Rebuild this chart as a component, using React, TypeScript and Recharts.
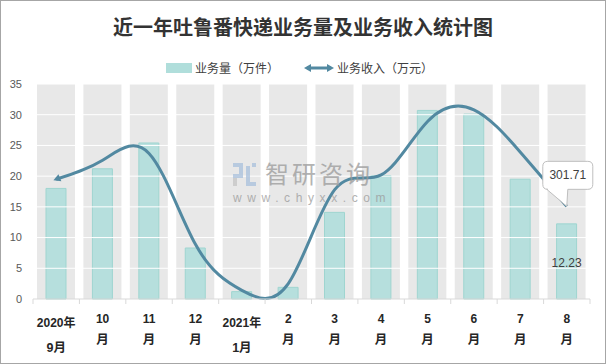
import React from 'react';
import { ComposedChart, Bar, Line, XAxis, YAxis, ReferenceLine, LabelList } from 'recharts';

// 近一年吐鲁番快递业务量及业务收入
const months = ['2020年9月', '10月', '11月', '12月', '2021年1月', '2月', '3月', '4月', '5月', '6月', '7月', '8月'];
const tickTop = ['2020年', '10', '11', '12', '2021年', '2', '3', '4', '5', '6', '7', '8'];
const tickBottom = ['9月', '月', '月', '月', '1月', '月', '月', '月', '月', '月', '月', '月'];
const volume = [18.0, 21.2, 25.4, 8.3, 1.2, 1.9, 14.1, 20.1, 30.7, 30.1, 19.5, 12.23]; // 万件
const revenue = [390, 452, 474, 178, 28, 50, 356, 404, 578, 616, 478, 301.71]; // 万元
const yTicks = [0, 5, 10, 15, 20, 25, 30, 35];

const data = months.map((m, i) => ({ month: m, volume: volume[i], revenue: revenue[i] }));

const BAR = '#b0dedb';
const BAR_EDGE = '#9fd5d0';
const LINE = '#5289a1';
const BAND = '#e8e8e8';
const TEXT = '#404040';
const FONT = '"Liberation Sans", Arial, "Noto Sans CJK SC", sans-serif';

const MonthTick = (props: any) => {
  const { x, y, payload, width } = props;
  const i = payload.index ?? props.index;
  const half = payload.offset || width / months.length / 2;
  const isYear = tickTop[i].includes('年');
  return (
    <g>
      <line x1={x - half} x2={x - half} y1={y} y2={y + 5} stroke="#d9d9d9" />
      {i === months.length - 1 && <line x1={x + half} x2={x + half} y1={y} y2={y + 5} stroke="#d9d9d9" />}
      <text x={x} y={y + (isYear ? 28 : 24)} textAnchor="middle" fontSize={12} fontWeight="bold" fill="#262626" fontFamily={FONT}>
        {tickTop[i]}
      </text>
      <text x={x} y={y + (isYear ? 53 : 45)} textAnchor="middle" fontSize={12.5} fontWeight="bold" fill="#262626" fontFamily={FONT}>
        {tickBottom[i]}
      </text>
    </g>
  );
};

const StartArrow = (props: any) => {
  const { cx, cy, index, points } = props;
  if (index !== 0 || !points || points.length < 2) return <g key={`d${index}`} />;
  const dx = points[1].x - cx;
  const dy = points[1].y - cy;
  const len = Math.hypot(dx, dy) || 1;
  const ux = dx / len;
  const uy = dy / len;
  const tipX = cx - ux * 3;
  const tipY = cy - uy * 3;
  const bx = cx + ux * 4;
  const by = cy + uy * 4;
  const w = 3.8;
  const pts = `${tipX},${tipY} ${bx - uy * w},${by + ux * w} ${bx + uy * w},${by - ux * w}`;
  return <polygon key="arrow" points={pts} fill={LINE} />;
};

const Callout = (props: any) => {
  const { x, y, index, value } = props;
  if (index !== revenue.length - 1) return null;
  const L = x - 24, R = x + 26, T = y - 45, B = y - 17, r = 5;
  const d = `M${L + r},${T} H${R - r} Q${R},${T} ${R},${T + r} V${B - r} Q${R},${B} ${R - r},${B} H${x + 1} L${x},${y} L${x - 20},${B} H${L + r} Q${L},${B} ${L},${B - r} V${T + r} Q${L},${T} ${L + r},${T} Z`;
  return (
    <g>
      <path d={d} fill="#fff" stroke="#bfbfbf" strokeWidth={1} />
      <text x={x + 1} y={y - 27} textAnchor="middle" fontSize={12} fill={TEXT} fontFamily={FONT}>
        {value}
      </text>
    </g>
  );
};

const BarValue = (props: any) => {
  const { x, y, width, height, index, value } = props;
  if (index !== volume.length - 1) return null;
  return (
    <text x={x + width / 2} y={y + height / 2 + 6} textAnchor="middle" fontSize={12} fill={TEXT} fontFamily={FONT}>
      {value}
    </text>
  );
};

export default function App() {
  return (
    <div style={{ position: 'absolute', left: 0, top: 0, width: 606, height: 364, background: '#fff', fontFamily: FONT }}>
      <div
        style={{
          position: 'absolute', left: 0, top: 13, width: 606, textAlign: 'center',
          fontSize: 20, fontWeight: 'bold', color: '#333', fontFamily: '"Noto Sans CJK SC", sans-serif', lineHeight: '28px',
        }}
      >
        近一年吐鲁番快递业务量及业务收入统计图
      </div>
      <div style={{ position: 'absolute', left: 166, top: 63, width: 26, height: 10, background: BAR }} />
      <div style={{ position: 'absolute', left: 195, top: 59, fontSize: 12, color: TEXT, lineHeight: '18px', fontFamily: '"Noto Sans CJK SC", sans-serif' }}>
        业务量（万件）
      </div>
      <svg style={{ position: 'absolute', left: 303, top: 62 }} width={32} height={12}>
        <line x1={4} x2={28} y1={6} y2={6} stroke={LINE} strokeWidth={3} />
        <polygon points="1,6 8,2 8,10" fill={LINE} />
        <polygon points="31,6 24,2 24,10" fill={LINE} />
      </svg>
      <div style={{ position: 'absolute', left: 337, top: 59, fontSize: 12, color: TEXT, lineHeight: '18px', fontFamily: '"Noto Sans CJK SC", sans-serif' }}>
        业务收入（万元）
      </div>

      <div style={{ position: 'absolute', left: 0, top: 0 }}>
        <ComposedChart width={606} height={364} data={data} margin={{ top: 84, right: 16, left: 0, bottom: 0 }}>
          <XAxis xAxisId="bg" dataKey="month" hide />
          <XAxis
            dataKey="month"
            height={65}
            axisLine={{ stroke: '#d9d9d9' }}
            tickLine={false}
            tickSize={0}
            tickMargin={0}
            interval={0}
            tick={<MonthTick />}
          />
          <YAxis
            yAxisId="left"
            domain={[0, 35]}
            ticks={yTicks}
            width={33}
            axisLine={false}
            tickLine={false}
            tickMargin={5}
            tick={{ fill: '#595959', fontSize: 11, fontFamily: FONT }}
          />
          <YAxis yAxisId="right" orientation="right" domain={[0, 700]} hide />
          <Bar
            xAxisId="bg"
            yAxisId="left"
            dataKey="volume"
            barSize={38}
            fill="transparent"
            background={{ fill: BAND }}
            isAnimationActive={false}
          />
          {yTicks.slice(1).map((t) => (
            <ReferenceLine key={t} yAxisId="left" y={t} stroke="#fff" strokeWidth={1} />
          ))}
          <Bar
            yAxisId="left"
            dataKey="volume"
            barSize={20}
            fill={BAR}
            fillOpacity={0.9}
            stroke={BAR_EDGE}
            strokeWidth={1}
            isAnimationActive={false}
          >
            <LabelList dataKey="volume" content={<BarValue />} />
          </Bar>
          <Line
            yAxisId="right"
            type="natural"
            dataKey="revenue"
            stroke={LINE}
            strokeWidth={3}
            dot={(p: any) => <StartArrow {...p} />}
            activeDot={false}
            isAnimationActive={false}
          >
            <LabelList dataKey="revenue" content={<Callout />} />
          </Line>
        </ComposedChart>
      </div>

      <div style={{ position: 'absolute', left: 233, top: 162, pointerEvents: 'none', opacity: 0.75 }}>
        <svg width={24} height={26} style={{ position: 'absolute', left: 0, top: 1 }}>
          <rect x={0} y={0} width={10} height={4} fill="#a9c0dc" />
          <rect x={6} y={4} width={4} height={8} fill="#a9c0dc" />
          <rect x={0} y={11} width={10} height={4} fill="#a9c0dc" />
          <rect x={0} y={15} width={4} height={8} fill="#c4c4c4" />
          <rect x={13} y={3} width={4} height={20} fill="#a9c0dc" />
          <rect x={13} y={19} width={10} height={4} fill="#a9c0dc" />
          <rect x={19} y={0} width={4} height={4} fill="#a9c0dc" />
        </svg>
        <div style={{ position: 'absolute', left: 32, top: -1, height: 24, fontSize: 24, color: '#9a9a9a', whiteSpace: 'nowrap', letterSpacing: 3, fontFamily: '"Noto Sans CJK SC", sans-serif', lineHeight: '24px' }}>
          智研咨询
        </div>
        <div style={{ position: 'absolute', left: 0, top: 30, fontSize: 12, color: '#9a9a9a', whiteSpace: 'nowrap', letterSpacing: 5.6, lineHeight: '12px' }}>
          www.chyxx.com
        </div>
      </div>

      <div style={{ position: 'absolute', left: 0, top: 0, width: 606, height: 364, boxSizing: 'border-box', border: '1px solid #a6a6a6', pointerEvents: 'none' }} />
    </div>
  );
}
